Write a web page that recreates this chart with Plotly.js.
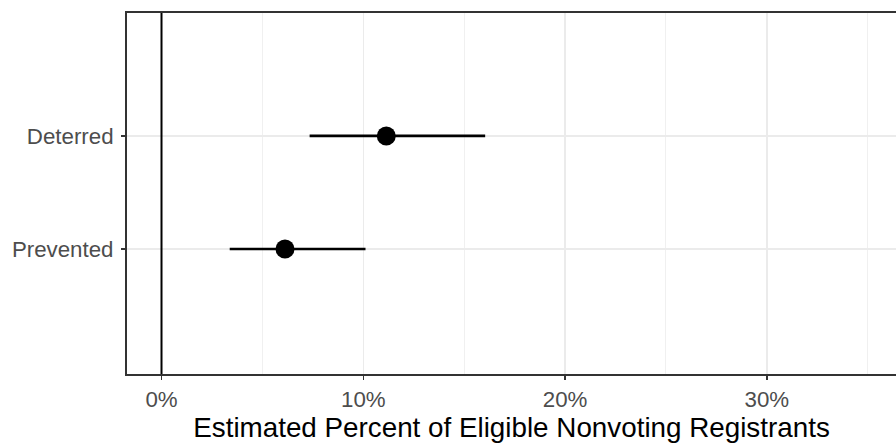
<!DOCTYPE html>
<html>
<head>
<meta charset="utf-8">
<script src="https://cdn.plot.ly/plotly-3.0.1.min.js"></script>
<style>
  html, body { margin: 0; padding: 0; background: #fff; }
  #chart { width: 896px; height: 443px; }
</style>
</head>
<body>
<div id="chart"></div>
<script>
// Estimated share of eligible nonvoting registrants (percent), with interval bounds
const categories = ["Prevented", "Deterred"];
const estimates  = [6.12, 11.14];
const lowerBound = [3.38, 7.34];
const upperBound = [10.11, 16.04];
const xTickVals  = [0, 10, 20, 30];
const xTickText  = ["0%", "10%", "20%", "30%"];

const yPos = categories.map((_, i) => i + 1);

const trace = {
  type: "scatter",
  mode: "markers",
  x: estimates,
  y: yPos,
  marker: { color: "#000000", size: 19, line: { width: 0 } },
  error_x: {
    type: "data",
    symmetric: false,
    array: estimates.map((v, i) => upperBound[i] - v),
    arrayminus: estimates.map((v, i) => v - lowerBound[i]),
    color: "#000000",
    thickness: 2.7,
    width: 0
  },
  hoverinfo: "skip",
  showlegend: false
};

const layout = {
  width: 896,
  height: 443,
  margin: { l: 127, r: 0, t: 13, b: 69 },
  paper_bgcolor: "#ffffff",
  plot_bgcolor: "#ffffff",
  font: { family: "Liberation Sans, Arial, sans-serif", color: "#4D4D4D" },
  xaxis: {
    range: [-1.71, 36.4],
    tickvals: xTickVals,
    ticktext: xTickText,
    tickfont: { size: 22.3, color: "#4D4D4D" },
    ticks: "outside",
    ticklen: 4,
    tickwidth: 1.5,
    tickcolor: "#333333",
    showgrid: true,
    gridcolor: "#EBEBEB",
    gridwidth: 1.5,
    minor: { dtick: 5, tick0: 0, showgrid: true, gridcolor: "#EBEBEB", gridwidth: 0.75, ticks: "" },
    zeroline: false,
    showline: true,
    linecolor: "#333333",
    linewidth: 2,
    mirror: true,
    title: {
      text: "Estimated Percent of Eligible Nonvoting Registrants",
      font: { size: 27.8, color: "#000000" },
      standoff: 9
    }
  },
  yaxis: {
    range: [-0.106, 3.088],
    tickvals: yPos,
    ticktext: categories,
    tickfont: { size: 22.3, color: "#4D4D4D" },
    ticks: "outside",
    ticklen: 4,
    tickwidth: 1.5,
    tickcolor: "#333333",
    ticklabelstandoff: 3,
    showgrid: true,
    gridcolor: "#EBEBEB",
    gridwidth: 1.5,
    zeroline: false,
    showline: true,
    linecolor: "#333333",
    linewidth: 2,
    mirror: false
  },
  shapes: [{
    // reference line at zero
    type: "line",
    xref: "x", yref: "paper",
    x0: 0, x1: 0, y0: 0, y1: 1,
    line: { color: "#000000", width: 2 },
    layer: "above"
  }]
};

Plotly.newPlot("chart", [trace], layout, { staticPlot: true, displayModeBar: false });
</script>
</body>
</html>
